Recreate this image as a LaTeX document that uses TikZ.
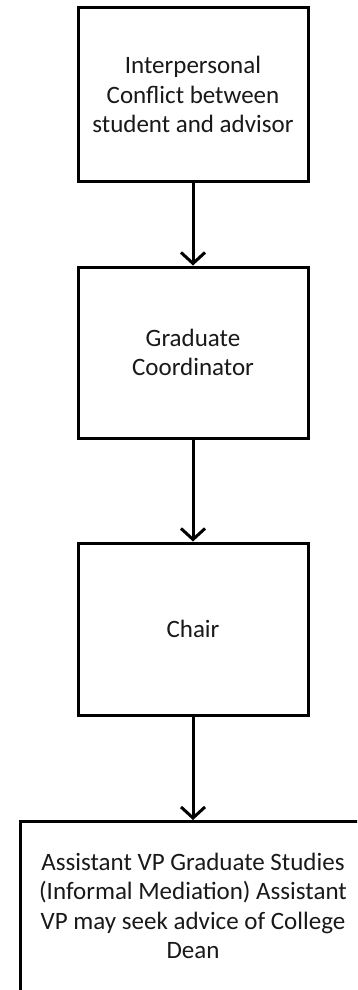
\documentclass[tikz,border=0pt]{standalone}
\usepackage{fontspec}
\setmainfont{Carlito}
\usetikzlibrary{arrows.meta}
\tikzset{
  box/.style={draw=black, line width=3pt, fill=white, minimum width=230pt, align=center,
    font=\fontsize{25pt}{29.5pt}\selectfont, text=black!90, inner sep=0pt},
  boxtext/.style={align=center, font=\fontsize{25pt}{29.5pt}\selectfont, text=black!90, inner sep=0pt},
  flow/.style={line width=3pt, -{Straight Barb[length=11pt,width=24pt,line width=3pt]}}
}
\begin{document}
\begin{tikzpicture}[x=1pt,y=1pt]
\useasboundingbox (0,0) rectangle (357,-990);
\clip (0,0) rectangle (357,-990);
\fill[white] (0,0) rectangle (357,-990);
\node[box, minimum height=173pt] (b1) at (193,-94.5) {Interpersonal\\Conflict between\\student and advisor};
\node[box, minimum height=171pt] (b2) at (193,-352.5) {Graduate\\Coordinator};
\node[box, minimum height=172pt] (b3) at (193,-629) {Chair};
\node[box, anchor=north west, minimum width=420pt, minimum height=172pt] (b4) at (19,-820) {};
\node[boxtext] (t4) at (193,-906) {Assistant VP Graduate Studies\\(Informal Mediation) Assistant\\VP may seek advice of College\\Dean};
\draw[flow] (b1.south) -- (b2.north -| b1.south);
\draw[flow] (b2) -- (b3);
\draw[flow] (b3.south) -- (b4.north -| b3.south);
\end{tikzpicture}
\end{document}
